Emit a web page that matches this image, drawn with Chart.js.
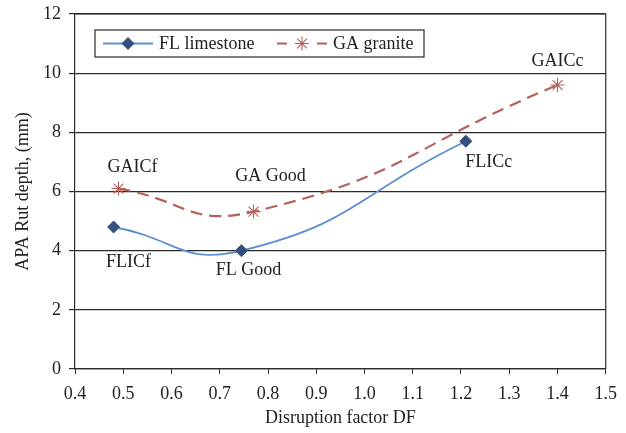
<!DOCTYPE html>
<html>
<head>
<meta charset="utf-8">
<script src="https://cdn.jsdelivr.net/npm/chart.js@4/dist/chart.umd.min.js"></script>
<style>
  html, body { margin: 0; padding: 0; background: #fff; }
  canvas { display: block; }
</style>
</head>
<body>
<canvas id="rut-chart" width="626" height="433"></canvas>
<script>
// disruption factor DF and APA rut depth
var flDF    = [0.48, 0.745, 1.21]
var flRut   = [4.8, 4.0, 7.7]
var flNames = ["FLICf", "FL Good", "FLICc"]

var gaDF    = [0.49, 0.77, 1.40]
var gaRut   = [6.1, 5.32, 9.6]
var gaNames = ["GAICf", "GA Good", "GAICc"]

var xTicks = [0.4, 0.5, 0.6, 0.7, 0.8, 0.9, 1.0, 1.1, 1.2, 1.3, 1.4, 1.5]
var yTicks = [0, 2, 4, 6, 8, 10, 12]

var seriesNames = ["FL limestone", "GA granite"]

var FONT = "'Liberation Serif', 'DejaVu Serif', serif"
var INK = "#2b2b2b"
var TXT = "#222"

function toPoints(xs, ys){
  var out = []
  for(let i = 0; i < xs.length; i++){
    out.push({x: xs[i], y: ys[i]})
  }
  return out
}

// where the point names sit, in pixels from their point
var labelOffsets = [
  [[15, 35], [7, 20], [23, 21]],
  [[14, -21], [17, -35], [0, -24]]
]
var pointNames = [flNames, gaNames]

var framePlugin = {
  id: "frame",
  afterDatasetsDraw(chart){
    var ctx = chart.ctx
    var a = chart.chartArea
    ctx.save()
    ctx.strokeStyle = INK
    ctx.lineWidth = 1.2
    ctx.beginPath()
    ctx.moveTo(a.left, a.top)
    ctx.lineTo(a.right, a.top)
    ctx.lineTo(a.right, a.bottom)
    ctx.stroke()

    // point names
    ctx.fillStyle = TXT
    ctx.font = "18px " + FONT
    ctx.textAlign = "center"
    ctx.textBaseline = "middle"
    chart.data.datasets.forEach(function(ds, di){
      var meta = chart.getDatasetMeta(di)
      meta.data.forEach(function(pt, i){
        var off = labelOffsets[di][i]
        ctx.fillText(pointNames[di][i], pt.x + off[0], pt.y + off[1])
      })
    })

    // legend box
    var bx = 95, by = 30, bw = 329, bh = 27
    ctx.fillStyle = "#fff"
    ctx.fillRect(bx, by, bw, bh)
    ctx.strokeStyle = INK
    ctx.lineWidth = 1.2
    ctx.strokeRect(bx, by, bw, bh)
    var cy = by + bh / 2
    var starts = [bx + 8, bx + 182]
    chart.data.datasets.forEach(function(ds, di){
      var x0 = starts[di]
      ctx.save()
      ctx.strokeStyle = ds.borderColor
      ctx.lineWidth = 2
      ctx.beginPath()
      if(ds.borderDash){
        ctx.moveTo(x0, cy); ctx.lineTo(x0 + 10, cy)
        ctx.moveTo(x0 + 40, cy); ctx.lineTo(x0 + 50, cy)
      } else {
        ctx.moveTo(x0, cy); ctx.lineTo(x0 + 50, cy)
      }
      ctx.stroke()
      ctx.fillStyle = ds.pointBackgroundColor
      ctx.strokeStyle = ds.pointBorderColor
      ctx.lineWidth = ds.pointBorderWidth
      Chart.helpers.drawPoint(ctx, {
        pointStyle: ds.pointStyle,
        radius: ds.pointRadius,
        rotation: 0,
        borderWidth: ds.pointBorderWidth
      }, x0 + 25, cy)
      ctx.restore()
      ctx.fillStyle = TXT
      ctx.textAlign = "left"
      ctx.font = "18px " + FONT
      ctx.fillText(ds.label, x0 + 56, cy + 1)
    })
    ctx.restore()
  }
}

new Chart(document.getElementById("rut-chart"), {
  type: "scatter",
  data: {
    datasets: [{
      label: seriesNames[0],
      data: toPoints(flDF, flRut),
      showLine: true,
      borderColor: "#5b8fd0",
      borderWidth: 1.8,
      tension: 0.5,
      pointStyle: "rectRot",
      pointRadius: 6,
      pointBackgroundColor: "#34507f",
      pointBorderColor: "#34507f",
      pointBorderWidth: 1
    }, {
      label: seriesNames[1],
      data: toPoints(gaDF, gaRut),
      showLine: true,
      borderColor: "#b5605a",
      borderWidth: 2.2,
      borderDash: [12, 7],
      tension: 0.5,
      pointStyle: "star",
      pointRadius: 7,
      pointBackgroundColor: "#b5605a",
      pointBorderColor: "#b5605a",
      pointBorderWidth: 1.1
    }]
  },
  options: {
    responsive: false,
    animation: false,
    layout: { padding: { left: 0, right: 20, top: 14, bottom: 0 } },
    plugins: {
      legend: { display: false },
      tooltip: { enabled: false }
    },
    scales: {
      x: {
        type: "linear",
        min: xTicks[0],
        max: xTicks[xTicks.length - 1],
        afterBuildTicks: function(axis){ axis.ticks = xTicks.map(function(v){ return {value: v} }) },
        afterFit: function(axis){ axis.height = 64 },
        border: { color: INK, width: 1.2 },
        grid: { drawOnChartArea: false, drawTicks: true, tickLength: 5, color: INK },
        ticks: {
          color: TXT,
          font: { family: FONT, size: 18 },
          padding: 9,
          maxRotation: 0,
          callback: function(v){ return v.toFixed(1) }
        },
        title: {
          display: true,
          text: "Disruption factor DF",
          color: TXT,
          font: { family: FONT, size: 18 },
          padding: { top: 0, bottom: 4 }
        }
      },
      y: {
        min: yTicks[0],
        max: yTicks[yTicks.length - 1],
        afterBuildTicks: function(axis){ axis.ticks = yTicks.map(function(v){ return {value: v} }) },
        afterFit: function(axis){
          axis.width = 75
          axis.paddingTop = 0
          axis.paddingBottom = 0
        },
        border: { color: INK, width: 1.2 },
        grid: { color: INK, lineWidth: 1.2, tickLength: 6 },
        ticks: {
          color: TXT,
          font: { family: FONT, size: 18 },
          padding: 8
        },
        title: {
          display: true,
          text: "APA Rut depth, (mm)",
          color: TXT,
          font: { family: FONT, size: 18 },
          padding: { top: 12, bottom: 0 }
        }
      }
    }
  },
  plugins: [framePlugin]
})
</script>
</body>
</html>
